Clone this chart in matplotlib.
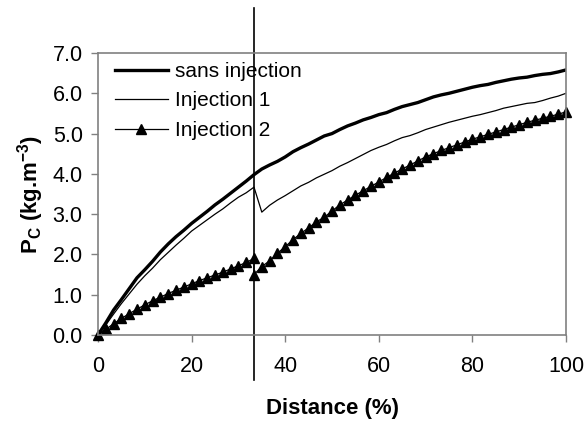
import numpy as np
import matplotlib
matplotlib.use("Agg")
import matplotlib.pyplot as plt

plt.rcParams['font.family'] = ['Liberation Sans', 'DejaVu Sans']
plt.rcParams['mathtext.fontset'] = 'custom'
plt.rcParams['mathtext.rm'] = 'Liberation Sans'
plt.rcParams['mathtext.bf'] = 'Liberation Sans:bold'

# x grid (% of distance), 61 points
distance = np.linspace(0, 100, 61)

sans_injection = [0.00, 0.30, 0.62, 0.88, 1.15, 1.42, 1.62, 1.83, 2.06, 2.26,
                  2.44, 2.60, 2.77, 2.92, 3.07, 3.23, 3.37, 3.52, 3.67, 3.82,
                  3.98, 4.12, 4.22, 4.31, 4.42, 4.55, 4.65, 4.74, 4.84, 4.94,
                  5.00, 5.10, 5.19, 5.26, 5.34, 5.40, 5.47, 5.52, 5.60, 5.67,
                  5.72, 5.77, 5.84, 5.91, 5.96, 6.00, 6.05, 6.10, 6.15, 6.19,
                  6.22, 6.27, 6.31, 6.35, 6.38, 6.40, 6.44, 6.47, 6.49, 6.53,
                  6.58]

injection_1 = [0.00, 0.25, 0.52, 0.78, 1.02, 1.26, 1.47, 1.66, 1.87, 2.05,
               2.23, 2.40, 2.58, 2.72, 2.86, 3.00, 3.13, 3.28, 3.42, 3.53,
               3.67, 3.05, 3.22, 3.35, 3.46, 3.58, 3.70, 3.79, 3.90, 3.99,
               4.08, 4.19, 4.28, 4.38, 4.48, 4.58, 4.66, 4.73, 4.82, 4.90,
               4.95, 5.02, 5.10, 5.16, 5.22, 5.28, 5.33, 5.38, 5.43, 5.47,
               5.52, 5.57, 5.63, 5.67, 5.71, 5.75, 5.77, 5.82, 5.88, 5.93,
               6.00]

injection_point = 100 / 3  # position of the injection (vertical line)

# Injection 2 has a doubled point at the injection position
distance_2 = list(distance[:21]) + [injection_point] + list(distance[21:])
injection_2 = [0.00, 0.14, 0.28, 0.41, 0.53, 0.64, 0.75, 0.85, 0.94, 1.03,
               1.11, 1.19, 1.27, 1.35, 1.42, 1.49, 1.56, 1.64, 1.72, 1.80,
               1.90,
               1.50,
               1.70, 1.84, 2.03, 2.19, 2.37, 2.52, 2.66, 2.81, 2.92, 3.08,
               3.23, 3.35, 3.47, 3.58, 3.69, 3.80, 3.91, 4.02, 4.12, 4.22,
               4.32, 4.42, 4.50, 4.58, 4.65, 4.72, 4.79, 4.86, 4.92, 4.98,
               5.04, 5.10, 5.16, 5.22, 5.28, 5.33, 5.38, 5.43, 5.48, 5.54]

x_ticks = [0, 20, 40, 60, 80, 100]
y_ticks = [0, 1, 2, 3, 4, 5, 6, 7]

fig = plt.figure(figsize=(5.86, 4.21), dpi=100)
ax = fig.add_axes([98/586, 86/421, 468/586, 282/421])

ax.plot(distance, sans_injection, color='black', lw=2.4, label='sans injection')
ax.plot(distance, injection_1, color='black', lw=0.9, label='Injection 1')
ax.plot(distance_2, injection_2, color='black', lw=0.9, marker='^', ms=6.5,
        label='Injection 2', clip_on=False)

ax.axvline(injection_point, ymin=-0.16, ymax=1.16, color='black', lw=1.2,
           clip_on=False)

ax.set_xlim(0, 100)
ax.set_ylim(0, 7)
ax.set_xticks(x_ticks)
ax.set_yticks(y_ticks)
ax.set_yticklabels([f"{v:.1f}" for v in y_ticks])
ax.tick_params(axis='both', direction='out', length=5, width=1, color='#808080',
               labelsize=15.5, pad=6)
ax.tick_params(axis='x', pad=10)
for s in ax.spines.values():
    s.set_color('#808080')
    s.set_linewidth(1.2)

ax.set_xlabel('Distance (%)', fontsize=16, fontweight='bold', labelpad=15)
ax.set_ylabel(r'$\mathbf{P_C}$ (kg.m$^{\mathbf{-3}}$)', fontsize=16,
              fontweight='bold', labelpad=5)

leg = ax.legend(loc='upper left', frameon=False, fontsize=15, handlelength=2.5,
                handletextpad=0.35, labelspacing=0.5, borderaxespad=0.1,
                bbox_to_anchor=(0.015, 1.005))

fig.savefig('out.png', dpi=100)
